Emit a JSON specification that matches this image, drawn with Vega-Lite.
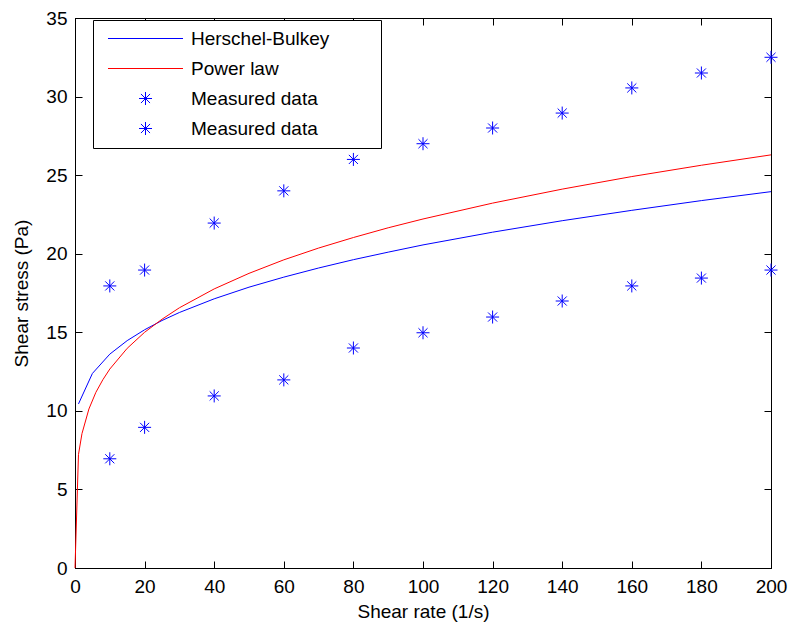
{
  "$schema": "https://vega.github.io/schema/vega-lite/v6.json",
  "width": 696,
  "height": 550,
  "autosize": "none",
  "padding": {"left": 75, "top": 18, "right": 19, "bottom": 57},
  "background": "white",
  "datasets": {
    "curves": [
      {"x": 1, "y": 10.44, "series": "HB"},
      {"x": 5, "y": 12.38, "series": "HB"},
      {"x": 10, "y": 13.61, "series": "HB"},
      {"x": 15, "y": 14.47, "series": "HB"},
      {"x": 20, "y": 15.16, "series": "HB"},
      {"x": 25, "y": 15.75, "series": "HB"},
      {"x": 30, "y": 16.26, "series": "HB"},
      {"x": 40, "y": 17.13, "series": "HB"},
      {"x": 50, "y": 17.87, "series": "HB"},
      {"x": 60, "y": 18.51, "series": "HB"},
      {"x": 70, "y": 19.09, "series": "HB"},
      {"x": 80, "y": 19.62, "series": "HB"},
      {"x": 90, "y": 20.10, "series": "HB"},
      {"x": 100, "y": 20.56, "series": "HB"},
      {"x": 120, "y": 21.37, "series": "HB"},
      {"x": 140, "y": 22.10, "series": "HB"},
      {"x": 160, "y": 22.76, "series": "HB"},
      {"x": 180, "y": 23.38, "series": "HB"},
      {"x": 200, "y": 23.95, "series": "HB"},
      {"x": 0, "y": 0, "series": "PL"},
      {"x": 1, "y": 7.22, "series": "PL"},
      {"x": 2, "y": 8.55, "series": "PL"},
      {"x": 4, "y": 10.12, "series": "PL"},
      {"x": 6, "y": 11.18, "series": "PL"},
      {"x": 8, "y": 11.98, "series": "PL"},
      {"x": 10, "y": 12.66, "series": "PL"},
      {"x": 15, "y": 13.98, "series": "PL"},
      {"x": 20, "y": 15.0, "series": "PL"},
      {"x": 25, "y": 15.83, "series": "PL"},
      {"x": 30, "y": 16.56, "series": "PL"},
      {"x": 40, "y": 17.76, "series": "PL"},
      {"x": 50, "y": 18.75, "series": "PL"},
      {"x": 60, "y": 19.61, "series": "PL"},
      {"x": 70, "y": 20.36, "series": "PL"},
      {"x": 80, "y": 21.03, "series": "PL"},
      {"x": 90, "y": 21.65, "series": "PL"},
      {"x": 100, "y": 22.21, "series": "PL"},
      {"x": 120, "y": 23.22, "series": "PL"},
      {"x": 140, "y": 24.11, "series": "PL"},
      {"x": 160, "y": 24.91, "series": "PL"},
      {"x": 180, "y": 25.63, "series": "PL"},
      {"x": 200, "y": 26.29, "series": "PL"}
    ],
    "measured": [
      {"x": 10, "y": 17.95, "series": "M1"},
      {"x": 20, "y": 18.96, "series": "M1"},
      {"x": 40, "y": 21.95, "series": "M1"},
      {"x": 60, "y": 24.0, "series": "M1"},
      {"x": 80, "y": 26.0, "series": "M1"},
      {"x": 100, "y": 27.0, "series": "M1"},
      {"x": 120, "y": 28.0, "series": "M1"},
      {"x": 140, "y": 28.95, "series": "M1"},
      {"x": 160, "y": 30.55, "series": "M1"},
      {"x": 180, "y": 31.5, "series": "M1"},
      {"x": 200, "y": 32.5, "series": "M1"},
      {"x": 10, "y": 6.95, "series": "M2"},
      {"x": 20, "y": 8.95, "series": "M2"},
      {"x": 40, "y": 10.95, "series": "M2"},
      {"x": 60, "y": 11.97, "series": "M2"},
      {"x": 80, "y": 14.0, "series": "M2"},
      {"x": 100, "y": 14.97, "series": "M2"},
      {"x": 120, "y": 15.97, "series": "M2"},
      {"x": 140, "y": 16.99, "series": "M2"},
      {"x": 160, "y": 17.95, "series": "M2"},
      {"x": 180, "y": 18.45, "series": "M2"},
      {"x": 200, "y": 18.96, "series": "M2"}
    ]
  },
  "layer": [
    {
      "data": {"name": "curves"},
      "mark": {"type": "line", "strokeWidth": 1, "interpolate": "linear"},
      "encoding": {
        "x": {
          "field": "x", "type": "quantitative",
          "scale": {"domain": [0, 200], "nice": false, "zero": false},
          "axis": {"orient": "bottom", "title": "Shear rate (1/s)", "values": [0, 20, 40, 60, 80, 100, 120, 140, 160, 180, 200], "labelPadding": 16, "titlePadding": 6}
        },
        "y": {
          "field": "y", "type": "quantitative",
          "scale": {"domain": [0, 35], "nice": false, "zero": false},
          "axis": {"orient": "left", "title": "Shear stress (Pa)", "values": [0, 5, 10, 15, 20, 25, 30, 35], "labelPadding": 15, "titlePadding": 14}
        },
        "color": {
          "field": "series", "type": "nominal",
          "scale": {"domain": ["HB", "PL", "M1", "M2"], "range": ["#0000ff", "#ff0000", "#0000ff", "#0000ff"]},
          "legend": {
            "title": null,
            "labelExpr": "datum.value == 'HB' ? 'Herschel-Bulkey' : datum.value == 'PL' ? 'Power law' : 'Measured data'",
            "encode": {"symbols": {"update": {"stroke": {"scale": "color", "field": "value"}, "fill": {"value": "transparent"}}}}
          }
        },
        "detail": {"field": "series"}
      }
    },
    {
      "data": {"name": "measured"},
      "mark": {"type": "point", "filled": false, "size": 169, "strokeWidth": 1, "opacity": 1},
      "encoding": {
        "x": {
          "field": "x", "type": "quantitative",
          "axis": {"orient": "top", "title": null, "labels": false, "values": [0, 20, 40, 60, 80, 100, 120, 140, 160, 180, 200]}
        },
        "y": {
          "field": "y", "type": "quantitative",
          "axis": {"orient": "right", "title": null, "labels": false, "values": [0, 5, 10, 15, 20, 25, 30, 35]}
        },
        "color": {
          "field": "series", "type": "nominal",
          "legend": {
            "title": null,
            "labelExpr": "datum.value == 'HB' ? 'Herschel-Bulkey' : datum.value == 'PL' ? 'Power law' : 'Measured data'",
            "encode": {"symbols": {"update": {"stroke": {"scale": "color", "field": "value"}, "fill": {"value": "transparent"}}}}
          }
        },
        "shape": {
          "field": "series", "type": "nominal",
          "scale": {
            "domain": ["HB", "PL", "M1", "M2"],
            "range": [
              "M-5.77,0L5.77,0M34.5,0L34.5,0",
              "M-5.77,0L5.77,0M34.5,0L34.5,0",
              "M-1,0L1,0M0,-1L0,1M-0.7,-0.7L0.7,0.7M-0.7,0.7L0.7,-0.7",
              "M-1,0L1,0M0,-1L0,1M-0.7,-0.7L0.7,0.7M-0.7,0.7L0.7,-0.7"
            ]
          },
          "legend": {
            "title": null,
            "labelExpr": "datum.value == 'HB' ? 'Herschel-Bulkey' : datum.value == 'PL' ? 'Power law' : 'Measured data'",
            "encode": {"symbols": {"update": {"stroke": {"scale": "color", "field": "value"}, "fill": {"value": "transparent"}}}}
          }
        }
      }
    }
  ],
  "resolve": {"axis": {"x": "independent", "y": "independent"}},
  "config": {
    "view": {"stroke": "#000000", "strokeWidth": 1},
    "font": "Liberation Sans",
    "axis": {
      "grid": false,
      "domainColor": "#000000",
      "domainWidth": 1,
      "tickColor": "#000000",
      "tickSize": -7,
      "tickWidth": 1,
      "labelFont": "Liberation Sans",
      "labelFontSize": 19,
      "labelColor": "#000000",
      "labelFlush": false,
      "labelOverlap": false,
      "titleFont": "Liberation Sans",
      "titleFontSize": 19,
      "titleFontWeight": "normal",
      "titleColor": "#000000"
    },
    "legend": {
      "orient": "none",
      "legendX": 18,
      "legendY": 2,
      "strokeColor": "#000000",
      "fillColor": "#ffffff",
      "padding": 9,
      "labelFont": "Liberation Sans",
      "labelFontSize": 19,
      "labelColor": "#000000",
      "labelLimit": 400,
      "symbolSize": 169,
      "symbolStrokeWidth": 1,
      "symbolOffset": 34,
      "labelOffset": 36,
      "rowPadding": 10,
      "symbolFillColor": "transparent"
    }
  }
}
